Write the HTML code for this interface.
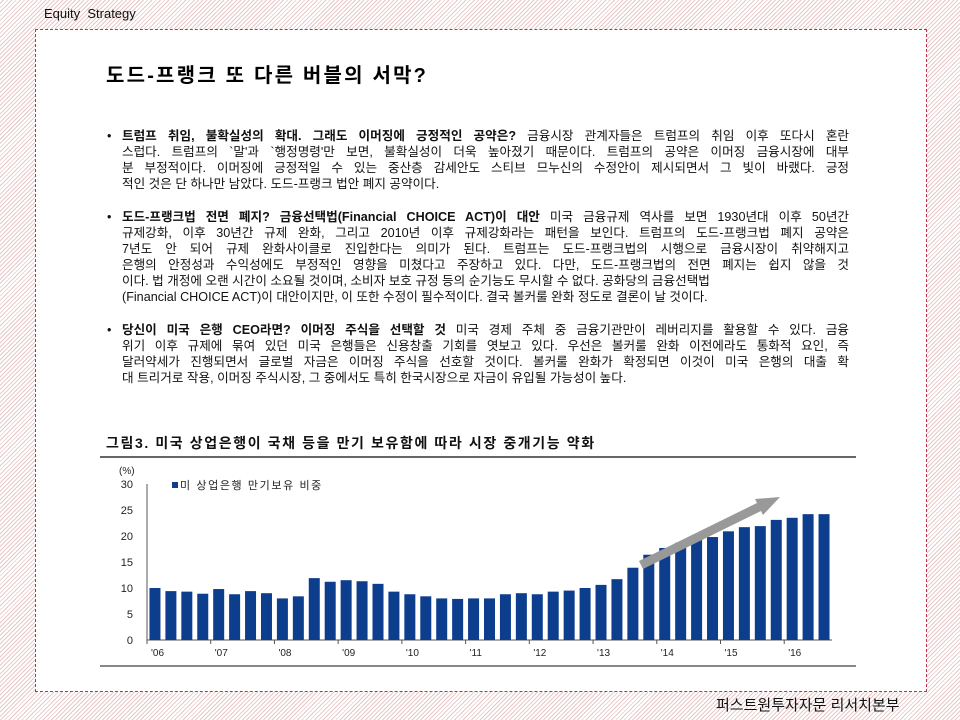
<!DOCTYPE html>
<html><head><meta charset="utf-8">
<style>
html,body{margin:0;padding:0}
body{width:960px;height:720px;position:relative;overflow:hidden;font-family:"Liberation Sans","Noto Sans CJK KR","NanumGothic",sans-serif;
background:repeating-linear-gradient(135deg,#fff 0 2px,#e6c8c8 2px 3px);}
#hdr{position:absolute;left:44px;top:6px;font-size:13px;color:#111}
#frame{position:absolute;left:35px;top:29px;width:890px;height:661px;background:#fff;border:1px dashed #c0304a}
#title{position:absolute;left:106px;top:59px;font-size:20px;font-weight:bold;color:#000;letter-spacing:2.2px}
.para{position:absolute;left:107px;width:742px;font-size:12.6px;color:#111}
.para .ln{padding-left:15px;height:16px;line-height:16px;white-space:nowrap;text-align:justify;text-align-last:justify;overflow:hidden}
.para .ln.last{text-align-last:left}
.para .bul{position:absolute;left:0;top:0;line-height:16px}
b{font-weight:bold}
#footer{position:absolute;left:716px;top:694px;font-size:15px;color:#111}
</style></head><body>
<div id="hdr">Equity&nbsp; Strategy</div>
<div id="frame"></div>
<div id="title">도드-프랭크 또 다른 버블의 서막?</div>

<div class="para" style="top:128px">
<span class="bul">•</span>
<div class="ln"><b>트럼프 취임, 불확실성의 확대. 그래도 이머징에 긍정적인 공약은?</b> 금융시장 관계자들은 트럼프의 취임 이후 또다시 혼란</div>
<div class="ln">스럽다. 트럼프의 `말'과 `행정명령'만 보면, 불확실성이 더욱 높아졌기 때문이다. 트럼프의 공약은 이머징 금융시장에 대부</div>
<div class="ln">분 부정적이다. 이머징에 긍정적일 수 있는 중산층 감세안도 스티브 므누신의 수정안이 제시되면서 그 빛이 바랬다. 긍정</div>
<div class="ln last">적인 것은 단 하나만 남았다. 도드-프랭크 법안 폐지 공약이다.</div>
</div>

<div class="para" style="top:209px">
<span class="bul">•</span>
<div class="ln"><b>도드-프랭크법 전면 폐지? 금융선택법(Financial CHOICE ACT)이 대안</b> 미국 금융규제 역사를 보면 1930년대 이후 50년간</div>
<div class="ln">규제강화, 이후 30년간 규제 완화, 그리고 2010년 이후 규제강화라는 패턴을 보인다. 트럼프의 도드-프랭크법 폐지 공약은</div>
<div class="ln">7년도 안 되어 규제 완화사이클로 진입한다는 의미가 된다. 트럼프는 도드-프랭크법의 시행으로 금융시장이 취약해지고</div>
<div class="ln">은행의 안정성과 수익성에도 부정적인 영향을 미쳤다고 주장하고 있다. 다만, 도드-프랭크법의 전면 폐지는 쉽지 않을 것</div>
<div class="ln last">이다. 법 개정에 오랜 시간이 소요될 것이며, 소비자 보호 규정 등의 순기능도 무시할 수 없다. 공화당의 금융선택법</div>
<div class="ln last">(Financial CHOICE ACT)이 대안이지만, 이 또한 수정이 필수적이다. 결국 볼커룰 완화 정도로 결론이 날 것이다.</div>
</div>

<div class="para" style="top:322px">
<span class="bul">•</span>
<div class="ln"><b>당신이 미국 은행 CEO라면? 이머징 주식을 선택할 것</b> 미국 경제 주체 중 금융기관만이 레버리지를 활용할 수 있다. 금융</div>
<div class="ln">위기 이후 규제에 묶여 있던 미국 은행들은 신용창출 기회를 엿보고 있다. 우선은 볼커룰 완화 이전에라도 통화적 요인, 즉</div>
<div class="ln">달러약세가 진행되면서 글로벌 자금은 이머징 주식을 선호할 것이다. 볼커룰 완화가 확정되면 이것이 미국 은행의 대출 확</div>
<div class="ln last">대 트리거로 작용, 이머징 주식시장, 그 중에서도 특히 한국시장으로 자금이 유입될 가능성이 높다.</div>
</div>

<svg id="chart" width="960" height="720" style="position:absolute;left:0;top:0"></svg>
<div id="footer">퍼스트원투자자문 리서치본부</div>

<script>
const categories = ["'06","","","","'07","","","","'08","","","","'09","","","","'10","","","","'11","","","","'12","","","","'13","","","","'14","","","","'15","","","","'16","",""];
const holdingShare = [10.0,9.4,9.3,8.9,9.8,8.8,9.4,9.0,8.0,8.4,11.9,11.2,11.5,11.3,10.8,9.3,8.8,8.4,8.0,7.9,8.0,8.0,8.8,9.0,8.8,9.3,9.5,10.0,10.6,11.7,13.9,16.4,17.7,18.7,19.5,19.8,20.9,21.7,21.9,23.1,23.5,24.2,24.2];
const yTicks = [0,5,10,15,20,25,30];
const seriesName = "미 상업은행 만기보유 비중";

const NS="http://www.w3.org/2000/svg";
const svg=document.getElementById('chart');
function mk(tag,attrs,parent){const e=document.createElementNS(NS,tag);for(const k in attrs)e.setAttribute(k,attrs[k]);(parent||svg).appendChild(e);return e;}
const x0=147,x1=832,y0=640,yTop=484,yMax=30;
const step=(x1-x0)/categories.length;
const xPos=i=>x0+step*(i+0.5);
const yPos=v=>y0-(v/yMax)*(y0-yTop);

let t=mk('text',{x:106,y:448,'font-size':14,'font-weight':'bold',fill:'#111','letter-spacing':'1.6'});


t.textContent='그림3. 미국 상업은행이 국채 등을 만기 보유함에 따라 시장 중개기능 약화';
let l=mk('rect',{x:100,y:456,width:756,height:2,fill:'#666'});


l=mk('rect',{x:100,y:665,width:756,height:2,fill:'#888'});



let unit=mk('text',{x:119,y:474,'font-size':10,fill:'#222'});


unit.textContent='(%)';
let ax=mk('line',{x1:x0,y1:yTop,x2:x0,y2:y0,stroke:'#555','stroke-width':1});


yTicks.forEach(v=>{
  const tx=mk('text',{x:x0-14,y:yPos(v)+4,'font-size':11,'text-anchor':'end',fill:'#222'});
  
  
  tx.textContent=v;
});
let xa=mk('line',{x1:x0,y1:y0,x2:x1,y2:y0,stroke:'#555','stroke-width':1});



holdingShare.forEach((v,i)=>{
  const b=mk('rect',{x:xPos(i)-5.5,y:yPos(v),width:11,height:y0-yPos(v),fill:'#0d3e8e'});
  
  
});
categories.forEach((c,i)=>{
  if(!c)return;
  const tk=mk('line',{x1:xPos(i)-step/2,y1:y0,x2:xPos(i)-step/2,y2:y0+4,stroke:'#555'});
  
  
  const tx=mk('text',{x:xPos(i)-step/2+4,y:y0+16,'font-size':10,'text-anchor':'start',fill:'#222'});
  
  
  tx.textContent=c;
});

let lg=mk('rect',{x:172,y:482,width:6,height:6,fill:'#0d3e8e'});


let lt=mk('text',{x:180,y:489,'font-size':11,fill:'#222','letter-spacing':'1.6'});


lt.textContent=seriesName;

let ar=mk('polygon',{points:'639,561 757,503 755,499 780,497 763,515 761,511 643,569',fill:'#999'});


</script>
</body></html>
